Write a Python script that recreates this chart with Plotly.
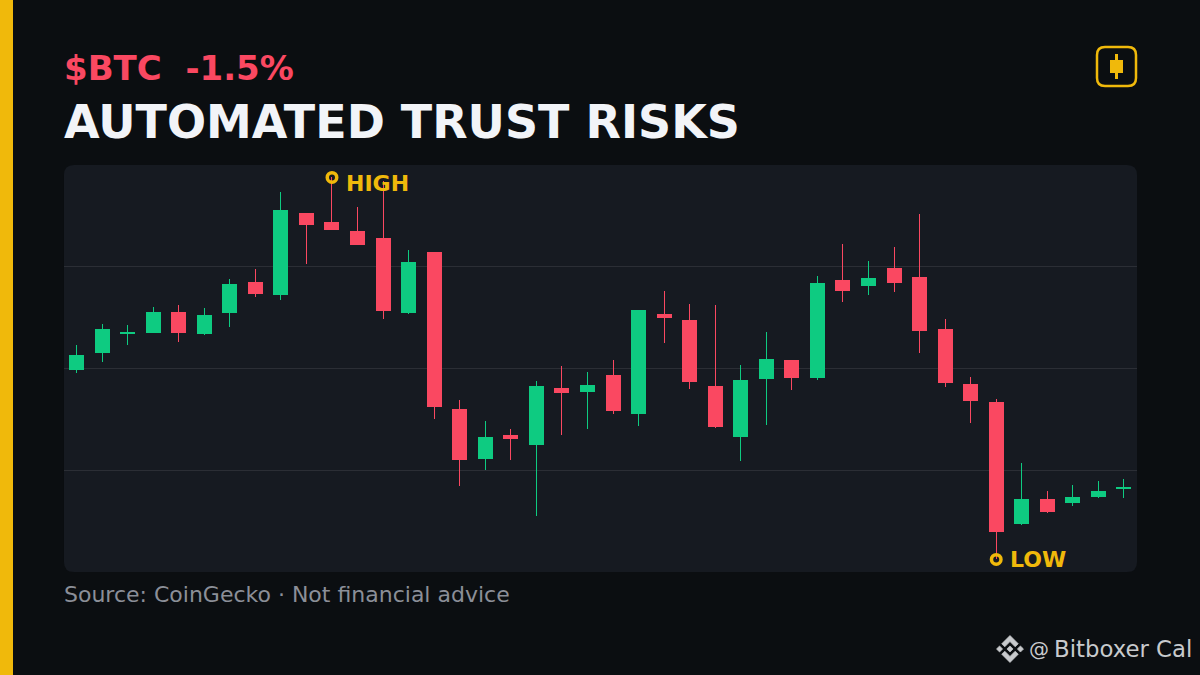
# $BTC candle card, rebuilt with plotly
import plotly.graph_objects as go

# candle values (chart units, 0 = bottom of the panel)
opens = [203, 220, 239, 240, 260, 239, 260, 290, 278, 359, 350, 341, 334, 260, 320, 163, 114, 137, 128, 184, 181,
         197, 159, 258, 252, 186, 136, 194, 212, 195, 292, 287, 304, 295, 243, 188, 170, 49, 73, 70, 76, 84]
highs = [227, 248, 247, 265, 267, 264, 293, 303, 380, 359, 395, 365, 391, 322, 320, 172, 151, 143, 191, 206, 200,
         212, 262, 281, 268, 267, 207, 240, 212, 296, 328, 311, 325, 358, 253, 195, 173, 109, 81, 87, 91, 93]
lows = [199, 210, 227, 239, 230, 237, 245, 275, 272, 308, 342, 327, 253, 258, 153, 86, 102, 112, 56, 137, 143,
        158, 146, 229, 183, 144, 111, 147, 182, 192, 270, 277, 280, 219, 185, 149, 13, 47, 59, 66, 74, 74]
closes = [217, 243, 240, 260, 240, 257, 288, 279, 362, 348, 343, 328, 262, 310, 166, 113, 135, 134, 186, 180, 187,
          162, 262, 255, 191, 146, 192, 213, 195, 289, 282, 294, 290, 242, 190, 172, 41, 73, 61, 75, 81, 85]
candle_x = list(range(len(opens)))

# extreme labels
extreme_x = [10, 36]
extreme_y = [395, 13]
extreme_text = ["HIGH", "LOW"]
extreme_shift = [-6, 0]

grid_vals = [102.4, 203.9, 305.65]

GREEN = "#0ecb81"
RED = "#fa4861"
YELLOW = "#f0b90b"
BG = "#0b0e11"
PANEL = "#161a21"
FONT = "DejaVu Sans"

W, H = 1200, 675


def px(x, y):
    return "%.5f %.5f" % (x / W, 1 - y / H)


def poly(points):
    return "M" + " L".join(px(x, y) for x, y in points) + " Z"


def round_rect(x0, y0, x1, y1, r):
    return ("M" + px(x0 + r, y0) + " L" + px(x1 - r, y0) + " Q" + px(x1, y0) + " " + px(x1, y0 + r)
            + " L" + px(x1, y1 - r) + " Q" + px(x1, y1) + " " + px(x1 - r, y1)
            + " L" + px(x0 + r, y1) + " Q" + px(x0, y1) + " " + px(x0, y1 - r)
            + " L" + px(x0, y0 + r) + " Q" + px(x0, y0) + " " + px(x0 + r, y0) + " Z")


def box(x0, y0, x1, y1, color):
    return dict(type="rect", xref="paper", yref="paper", x0=x0 / W, x1=x1 / W, y0=1 - y1 / H, y1=1 - y0 / H,
                fillcolor=color, line_width=0, layer="below")


fig = go.Figure()
fig.add_trace(go.Candlestick(
    x=candle_x, open=opens, high=highs, low=lows, close=closes,
    increasing=dict(line=dict(color=GREEN, width=1), fillcolor=GREEN),
    decreasing=dict(line=dict(color=RED, width=1), fillcolor=RED),
    whiskerwidth=0, hoverinfo="skip",
))
fig.add_trace(go.Scatter(
    x=extreme_x, y=extreme_y, mode="markers", hoverinfo="skip",
    marker=dict(symbol="circle-open", size=9.5, color=YELLOW, line=dict(color=YELLOW, width=3.5)),
))

shapes = [
    box(0, 0, 13, 675, YELLOW),
    dict(type="path", xref="paper", yref="paper", path=round_rect(64, 165, 1137, 572, 10),
         fillcolor=PANEL, line_width=0, layer="below"),
    # candle icon, top right
    dict(type="path", xref="paper", yref="paper", path=round_rect(1097, 47, 1136, 86, 8),
         fillcolor="rgba(0,0,0,0)", line=dict(color=YELLOW, width=2.5), layer="below"),
    box(1115, 54, 1118, 79, YELLOW),
    box(1110, 60, 1123, 73, YELLOW),
]

# binance mark next to the handle
logo = [
    [(11.99, 0), (19.34, 7.34), (16.62, 10.06), (11.99, 5.42), (7.35, 10.08), (4.64, 7.36)],
    [(16.62, 13.92), (19.34, 16.64), (11.99, 24), (4.64, 16.64), (7.35, 13.92), (11.99, 18.58)],
    [(2.72, 9.28), (5.41, 12), (2.72, 14.69), (0, 12)],
    [(21.26, 9.28), (24, 12), (21.28, 14.72), (18.57, 12)],
    [(11.99, 9.28), (14.7, 12), (11.99, 14.7), (9.27, 12)],
]
for part in logo:
    pts = [(996.5 + a * 27 / 24, 635.5 + b * 27 / 24) for a, b in part]
    shapes.append(dict(type="path", xref="paper", yref="paper", path=poly(pts),
                       fillcolor="#c8cacd", line=dict(color="#c8cacd", width=0.7), layer="below"))


def label(x, y, text, size, color, bold=False, family=FONT, anchor="left"):
    if bold:
        text = "<b>" + text + "</b>"
    return dict(xref="paper", yref="paper", x=x / W, y=1 - y / H, text=text, showarrow=False,
                xanchor=anchor, yanchor="middle", font=dict(family=family, size=size, color=color),
                borderpad=0, borderwidth=0)


annotations = [
    label(64, 68, "$BTC\u00a0\u00a0-1.5%", 34, RED, bold=True),
    label(64, 122, "AUTOMATED TRUST RISKS", 46, "#f2f4f8", bold=True),
    label(64, 594, "Source: CoinGecko · Not financial advice", 22, "#8b8f98"),
    label(1029, 649, "@", 20, "#c8cacd"),
    label(1054, 649, "Bitboxer Cal", 22.8, "#c8cacd"),
]
for x, y, t, s in zip(extreme_x, extreme_y, extreme_text, extreme_shift):
    annotations.append(dict(x=x, y=y, xref="x", yref="y", text="<b>" + t + "</b>", showarrow=False,
                            xanchor="left", yanchor="middle", xshift=12, yshift=s,
                            font=dict(family=FONT, size=22, color=YELLOW)))

fig.update_layout(
    width=W, height=H, margin=dict(l=0, r=0, t=0, b=0),
    paper_bgcolor=BG, plot_bgcolor="rgba(0,0,0,0)",
    showlegend=False, shapes=shapes, annotations=annotations, boxgap=0.452, boxgroupgap=0,
    xaxis=dict(domain=[64 / W, 1137 / W], range=[-0.49, 41.51], showgrid=False, showticklabels=False,
               zeroline=False, showline=False, ticks="", rangeslider=dict(visible=False)),
    yaxis=dict(domain=[1 - 572 / H, 1 - 165 / H], range=[0.4, 407.4], tickmode="array", tickvals=grid_vals,
               showgrid=True, gridcolor="rgba(255,255,255,0.09)", gridwidth=1, showticklabels=False,
               zeroline=False, showline=False, ticks=""),
)

# body margin off, square candle corners with crisp wicks like the picture
page_js = """
document.body.style.margin='0';
document.querySelectorAll('.boxes path').forEach(function(p){
  p.style.shapeRendering='crispEdges';
  p.style.strokeLinejoin='miter';
});
"""
fig.write_html("out.html", post_script=page_js, config=dict(displayModeBar=False))
